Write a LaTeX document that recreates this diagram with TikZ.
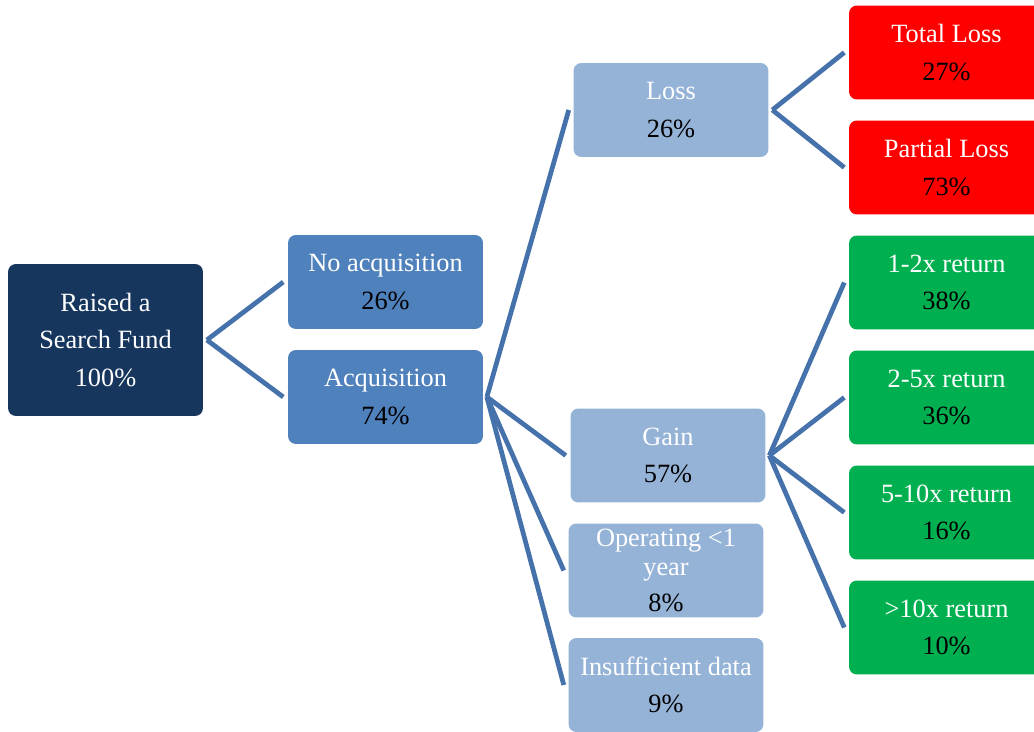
\documentclass[tikz,border=0pt]{standalone}
\usepackage{fontspec}
\setmainfont{Liberation Serif}
\definecolor{rootblue}{HTML}{17365D}
\definecolor{midblue}{HTML}{4F81BD}
\definecolor{lightblue}{HTML}{95B3D7}
\definecolor{lossred}{HTML}{FF0000}
\definecolor{gaingreen}{HTML}{00B050}
\definecolor{linkblue}{HTML}{4672AB}
\begin{document}
\begin{tikzpicture}[x=0.02cm,y=-0.02cm,
  tbox/.style={rounded corners=4.5pt, minimum width=3.9cm, minimum height=1.88cm,
    align=center, text=white, inner sep=2pt, font=\fontsize{15}{16.5}\selectfont},
  link/.style={draw=linkblue, line width=2.7pt}]
\def\pct#1{\textcolor{black}{#1\%}}
\def\colA{105.5}
\def\colB{385.5}
\def\colD{946.5}

\useasboundingbox (0,0) rectangle (1034,732);
\clip (0,0) rectangle (1034,732);

% Root
\node[tbox, fill=rootblue, minimum height=3.04cm] (root) at (\colA,340) {Raised a\\[5pt]Search Fund\\[5pt]100\%};

% Second level
\node[tbox, fill=midblue] (noacq) at (\colB,282) {No acquisition\\[5pt]\pct{26}};
\node[tbox, fill=midblue] (acq) at (\colB,397) {Acquisition\\[5pt]\pct{74}};

% Third level
\node[tbox, fill=lightblue] (loss) at (671,110) {Loss\\[5pt]\pct{26}};
\node[tbox, fill=lightblue] (gain) at (668,455.5) {Gain\\[5pt]\pct{57}};
\node[tbox, fill=lightblue] (oper) at (666,570.5) {Operating <1\\year\\[4pt]\pct{8}};
\node[tbox, fill=lightblue] (insuf) at (666,685) {Insufficient data\\[5pt]\pct{9}};

% Outcomes
\node[tbox, fill=lossred] (total) at (\colD,52.5) {Total Loss\\[5pt]\pct{27}};
\node[tbox, fill=lossred] (partial) at (\colD,167.5) {Partial Loss\\[5pt]\pct{73}};
\node[tbox, fill=gaingreen] (r12) at (\colD,282.5) {1-2x return\\[5pt]\pct{38}};
\node[tbox, fill=gaingreen] (r25) at (\colD,397.5) {2-5x return\\[5pt]\pct{36}};
\node[tbox, fill=gaingreen] (r510) at (\colD,512.5) {5-10x return\\[5pt]\pct{16}};
\node[tbox, fill=gaingreen] (r10) at (\colD,627.5) {>10x return\\[5pt]\pct{10}};

% Links
\foreach \c in {noacq,acq}
  \draw[link] ([xshift=2pt]root.east) -- ([xshift=-2.5pt]\c.west);
\foreach \c in {loss,gain,oper,insuf}
  \draw[link] ([xshift=2pt]acq.east) -- ([xshift=-2.5pt]\c.west);
\foreach \c in {total,partial}
  \draw[link] ([xshift=2pt]loss.east) -- ([xshift=-2.5pt]\c.west);
\foreach \c in {r12,r25,r510,r10}
  \draw[link] ([xshift=2pt]gain.east) -- ([xshift=-2.5pt]\c.west);

\end{tikzpicture}
\end{document}
